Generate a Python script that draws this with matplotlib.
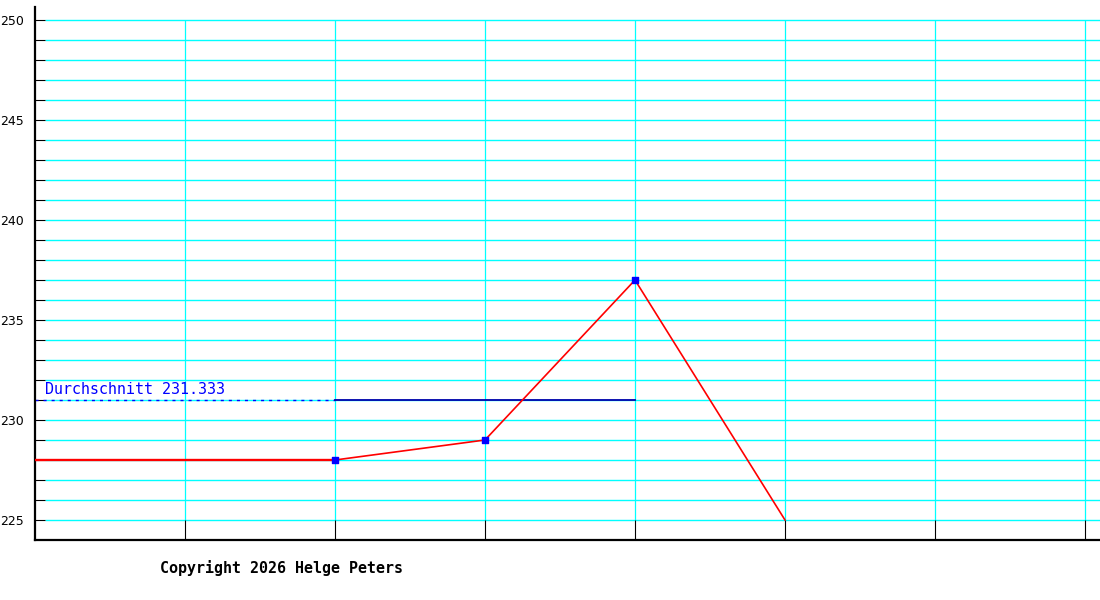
import numpy as np
import matplotlib.pyplot as plt

plt.rcParams['lines.scale_dashes'] = False

# data
xPos     = [0, 2, 3, 4, 5]
values   = [228, 228, 229, 237, 225]
markerX  = [2, 3, 4]
markerY  = [228, 229, 237]
average  = np.mean(markerY)
yTicks   = [225, 230, 235, 240, 245, 250]
xTicks   = [1, 2, 3, 4, 5, 6, 7]
avgLabel = "Durchschnitt %.3f" % average
copyText = "Copyright 2026 Helge Peters"

px = 1.0 / 150.0   # x data units per pixel
py = 1.0 / 20.0    # y data units per pixel

fig = plt.figure(figsize=(11, 6), dpi=100)
ax = fig.add_axes([35 / 1100, 60 / 600, 1065 / 1100, 533 / 600])
ax.set_xlim(0, 1065 * px)
ax.set_ylim(224, 224 + 533 * py)

# grid
for y in range(225, 251):
    ax.hlines(y, 10 * px, 1065 * px, color="#00ffff", lw=1.0, zorder=1)
for x in xTicks:
    ax.vlines(x, 225, 250, color="#00ffff", lw=0.9, zorder=1)

# average line (drawn at the integer part)
avgY = np.floor(average)
ax.plot([0, 2], [avgY, avgY], color="#0000ff", lw=1.0, dashes=(2.2, 3.6), zorder=2)
ax.plot([2, 4], [avgY, avgY], color="#0000aa", lw=1.3, zorder=2)
ax.text(10 * px, avgY + 2.5 * py, avgLabel, color="#0000ff", fontsize=10.8,
        family="DejaVu Sans Mono", va="bottom", ha="left", zorder=3)

# series
ax.plot(xPos[:2], values[:2], color="#ff0000", lw=1.7, zorder=3)
ax.plot(xPos[1:], values[1:], color="#ff0000", lw=1.2, zorder=3)
ax.scatter(markerX, markerY, color="#0000ff", marker="s", s=18, zorder=4)

# axes styling
for side in ["top", "right"]:
    ax.spines[side].set_visible(False)
ax.spines["left"].set_linewidth(1.6)
ax.spines["bottom"].set_linewidth(1.6)
ax.set_yticks(yTicks)
ax.set_yticks(range(225, 251), minor=True)
ax.set_xticks(xTicks)
ax.set_xticklabels([])
ax.tick_params(axis="y", which="both", direction="in", length=7.2, width=0.8, pad=8,
               labelsize=9)
ax.tick_params(axis="x", direction="in", length=14.4, width=0.8)
for lab in ax.get_yticklabels():
    lab.set_family("DejaVu Sans")

fig.text(160 / 1100, 1 - 568 / 600, copyText, fontsize=10.8, fontweight="bold",
         family="DejaVu Sans Mono", va="center", ha="left")

fig.savefig("out.png", dpi=100)
